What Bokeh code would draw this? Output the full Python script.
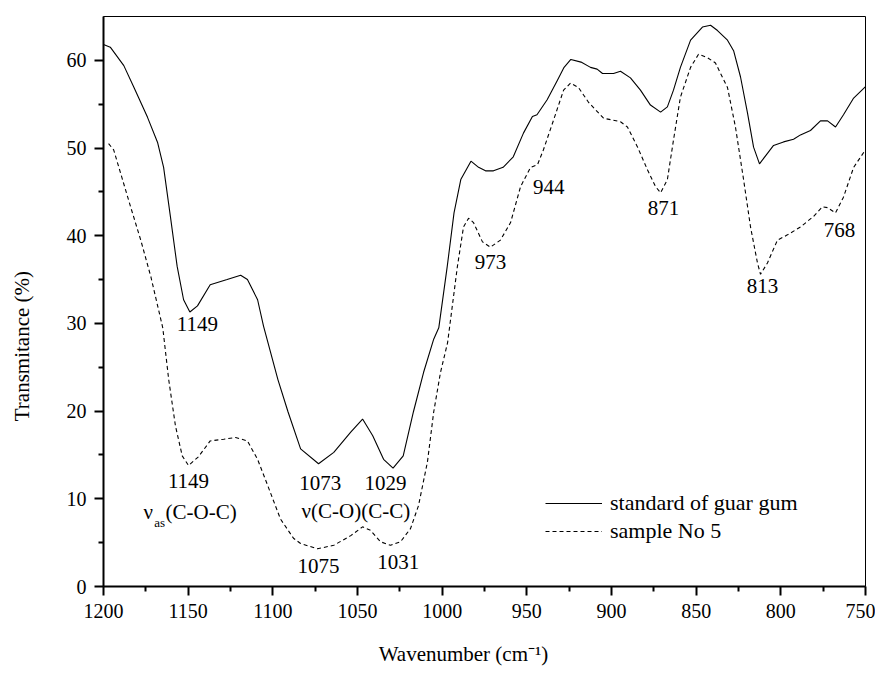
from bokeh.plotting import figure
from bokeh.models import Range1d, FixedTicker, Label, Legend, LegendItem, ColumnDataSource
from bokeh.core.properties import value
from bokeh.embed import file_html
from bokeh.resources import INLINE

FONT = "Liberation Serif, Times New Roman, serif"

# --- data ---
std_wn = [1200, 1196, 1188, 1182, 1174, 1168, 1164.5, 1160.5, 1156.5, 1152.7, 1149, 1144.5,
          1137, 1127, 1119, 1115, 1109, 1105.5, 1097, 1091, 1083.6, 1073, 1064, 1054, 1047,
          1041, 1034.6, 1029, 1023, 1017, 1011, 1005, 1002, 997, 993, 989, 983, 978.5, 974.4,
          969.7, 964, 958, 952, 946.7, 944, 938, 932, 928, 924, 918, 912.4, 908.5, 905.3,
          898.8, 894.7, 888.8, 882.9, 877, 871, 867, 863.4, 859.3, 853.3, 846.3, 841.5, 837.4,
          831.5, 827.9, 823.8, 819.7, 816.1, 812.6, 807.9, 804.3, 798.4, 792.5, 788.4, 782.5,
          776.6, 772.4, 767.7, 763, 757, 750]
std_t = [61.8, 61.5, 59.4, 56.9, 53.5, 50.6, 47.8, 42.2, 36.5, 32.7, 31.3, 32.0,
         34.4, 35.0, 35.5, 35.0, 32.7, 29.7, 23.6, 19.9, 15.7, 14.0, 15.3, 17.6, 19.1,
         17.2, 14.5, 13.5, 14.9, 19.9, 24.4, 28.2, 29.5, 36.5, 42.6, 46.4, 48.5, 47.8, 47.4,
         47.4, 47.8, 49.0, 51.7, 53.6, 53.8, 55.5, 57.7, 59.2, 60.1, 59.8, 59.2, 59.0, 58.5,
         58.5, 58.75, 58.0, 56.6, 54.9, 54.1, 54.7, 56.6, 59.2, 62.3, 63.8, 64.0, 63.4,
         62.3, 61.1, 58.1, 54.0, 50.1, 48.2, 49.4, 50.3, 50.7, 51.0, 51.5, 52.0,
         53.1, 53.1, 52.4, 53.8, 55.7, 57.0]

smp_wn = [1197, 1194, 1190, 1184, 1178, 1172, 1165, 1161.5, 1157.5, 1153.5, 1149.8, 1143.9,
          1137, 1129, 1122, 1115, 1109, 1103, 1095.5, 1087.8, 1083.6, 1073.6, 1064, 1054,
          1047, 1042.3, 1036.4, 1030.5, 1024.6, 1018.7, 1014, 1008.7, 1005, 1001, 996.8,
          991, 987.4, 984.4, 981.5, 976.2, 971.5, 965.6, 959.6, 953.7, 947.8, 943.7, 940.2,
          934.2, 928.3, 924.2, 919.5, 913.5, 904.7, 894.7, 890.6, 884.6, 878.7, 874, 871,
          867, 863.4, 859.3, 853.3, 848.6, 843.3, 838.6, 831.5, 826.8, 822, 817.9, 813.8,
          812, 807.9, 802, 796.1, 788.4, 780.7, 775.4, 772.4, 767.7, 763, 757, 750]
smp_t = [50.5, 49.8, 47.2, 43.3, 39.5, 35.3, 29.5, 23.6, 18.3, 14.9, 13.8, 14.8,
         16.6, 16.8, 17.0, 16.6, 14.5, 11.5, 7.7, 5.5, 4.9, 4.3, 4.7, 5.8,
         6.8, 6.4, 5.1, 4.7, 5.1, 6.6, 9.2, 14.2, 19.9, 24.4, 27.8,
         36.5, 41.0, 42.0, 41.5, 39.3, 38.7, 39.5, 41.5, 45.6, 47.8, 48.1, 49.8,
         53.2, 56.6, 57.4, 56.9, 55.2, 53.4, 53.0, 52.4, 50.1, 47.5, 45.6, 44.9,
         46.4, 50.9, 55.8, 59.2, 60.7, 60.3, 59.7, 56.9, 52.4, 46.4, 41.0, 36.9,
         35.6, 36.9, 39.5, 40.1, 41.0, 42.2, 43.3, 43.2, 42.6, 44.4, 47.8, 49.8]

x_ticks = [1200, 1150, 1100, 1050, 1000, 950, 900, 850, 800, 750]
x_minor = [1175, 1125, 1075, 1025, 975, 925, 875, 825, 775]
y_ticks = [0, 10, 20, 30, 40, 50, 60]
y_minor = [5, 15, 25, 35, 45, 55]

series_names = ["standard of guar gum", "sample No 5"]

# peak annotations
peak_labels = ["1149", "1149", "1073", "1029", "1075", "1031", "973", "944", "871", "813", "768"]
peak_x = [1144.5, 1149.8, 1072, 1033.5, 1073, 1026, 971.5, 937, 869.3, 810.8, 765.3]
peak_y = [29.9, 12.0, 11.8, 11.8, 2.3, 2.8, 37.0, 45.6, 43.2, 34.3, 40.7]

NB = "\u00a0"

p = figure(width=875, height=668, output_backend="svg", toolbar_location=None,
           x_range=Range1d(1200, 750), y_range=Range1d(0, 65),
           min_border_left=103, min_border_right=10, min_border_top=16, min_border_bottom=80)
p.background_fill_color = "white"
p.border_fill_color = "white"
p.outline_line_color = "black"
p.outline_line_width = 1
p.xgrid.visible = False
p.ygrid.visible = False

for ax in (p.xaxis[0], p.yaxis[0]):
    ax.axis_line_width = 2
    ax.axis_line_color = "black"
    ax.major_tick_line_width = 2
    ax.minor_tick_line_width = 2
    ax.major_tick_in = 0
    ax.major_tick_out = 9
    ax.minor_tick_in = 0
    ax.minor_tick_out = 5
    ax.major_label_text_font = FONT
    ax.major_label_text_font_size = "20px"
    ax.major_label_text_color = "black"
    ax.major_label_standoff = 8
    ax.axis_label_text_font = FONT
    ax.axis_label_text_font_size = "21px"
    ax.axis_label_text_font_style = "normal"
    ax.axis_label_text_color = "black"

p.xaxis[0].ticker = FixedTicker(ticks=x_ticks, minor_ticks=x_minor)
p.yaxis[0].ticker = FixedTicker(ticks=y_ticks, minor_ticks=y_minor)
p.yaxis[0].axis_label = "Transmitance (%)" + NB * 17
p.yaxis[0].axis_label_standoff = 30
p.xaxis[0].axis_label = "Wavenumber (cm⁻¹)" + NB * 8
p.xaxis[0].axis_label_standoff = 21

r1 = p.line(std_wn, std_t, line_color="black", line_width=1.1)
r2 = p.line(smp_wn, smp_t, line_color="black", line_width=1.1, line_dash="4 3")

legend = Legend(items=[LegendItem(label=series_names[0], renderers=[r1]),
                       LegendItem(label=series_names[1], renderers=[r2])],
                location=(442, 42), glyph_width=57, glyph_height=20, label_height=20,
                label_standoff=8, spacing=2, padding=0, margin=0,
                border_line_alpha=0, background_fill_alpha=0,
                label_text_font=FONT, label_text_font_size="22px", label_text_color="black")
p.add_layout(legend)

src = ColumnDataSource(dict(x=peak_x, y=peak_y, t=peak_labels))
p.text(x="x", y="y", text="t", source=src, text_font=value(FONT), text_font_size="21px",
       text_align="center", text_baseline="middle", text_color="black")

# band assignments
p.add_layout(Label(x=1176.4, y=8.5, text="ν", text_font=FONT, text_font_size="21px",
                   text_align="left", text_baseline="middle", text_color="black"))
p.add_layout(Label(x=1170.0, y=7.3, text="as", text_font=FONT, text_font_size="13px",
                   text_align="left", text_baseline="middle", text_color="black"))
p.add_layout(Label(x=1163.4, y=8.5, text="(C-O-C)", text_font=FONT, text_font_size="21px",
                   text_align="left", text_baseline="middle", text_color="black"))
p.add_layout(Label(x=1051, y=8.6, text="ν(C-O)(C-C)", text_font=FONT, text_font_size="21px",
                   text_align="center", text_baseline="middle", text_color="black"))

open("out.html", "w").write(file_html(p, INLINE))
